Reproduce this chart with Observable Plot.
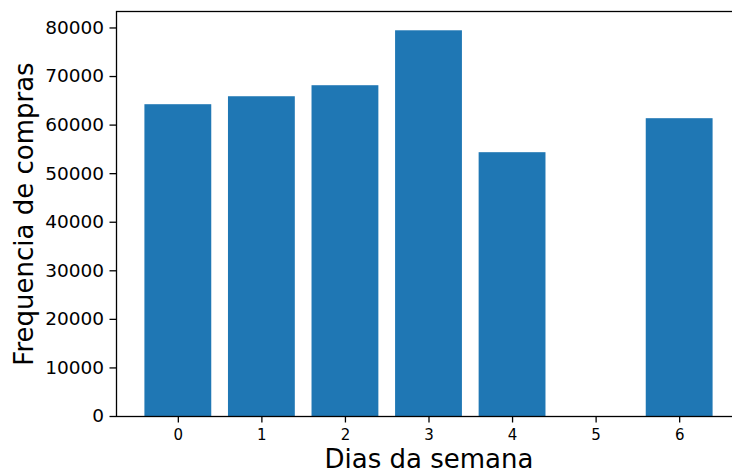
<!DOCTYPE html>
<html>
<head>
<meta charset="utf-8">
<script src="https://cdn.jsdelivr.net/npm/d3@7"></script>
<script src="https://cdn.jsdelivr.net/npm/@observablehq/plot@0.6"></script>
<style>
  html, body { margin: 0; padding: 0; background: #fff; }
  svg { font-family: "DejaVu Sans", sans-serif; }
</style>
</head>
<body>
<div id="chart"></div>
<script>
const days = [0, 1, 2, 3, 4, 5, 6];
const purchases = [64200, 65840, 68110, 79420, 54320, 0, 61320];
const yTicks = [0, 10000, 20000, 30000, 40000, 50000, 60000, 70000, 80000];
const xLabel = "Dias da semana";
const yLabel = "Frequencia de compras";

const data = days.map((d, i) => ({day: d, value: purchases[i]}));
const yMax = d3.max(purchases) * 1.05;
const xPad = 0.4 + 0.05 * (6.8);

const chart = Plot.plot({
  width: 732,
  height: 472,
  marginLeft: 116,
  marginRight: -9,
  marginTop: 11,
  marginBottom: 56,
  style: {fontFamily: "DejaVu Sans, sans-serif", background: "#fff", color: "#000"},
  x: {domain: [-xPad, 6 + xPad]},
  y: {domain: [0, yMax]},
  marks: [
    Plot.rectY(data, {x1: d => d.day - 0.4, x2: d => d.day + 0.4, y1: 0, y2: "value", fill: "#1f77b4"}),
    Plot.frame({stroke: "#000", strokeWidth: 1.3}),
    Plot.axisY(yTicks, {tickSize: 6.5, tickPadding: 6, tickFormat: d => String(d), fontSize: 18.5, label: null, stroke: "#000", strokeWidth: 1.3, color: "#000"}),
    Plot.axisX(days, {tickSize: 6.5, tickPadding: 6, tickFormat: d => String(d), fontSize: 15, label: null, stroke: "#000", strokeWidth: 1.3, color: "#000"}),
    Plot.text([yLabel], {frameAnchor: "left", textAnchor: "middle", dx: -92, rotate: -90, fontSize: 26, fill: "#000"}),
    Plot.text([xLabel], {frameAnchor: "bottom", textAnchor: "middle", dy: 51.5, fontSize: 26, fill: "#000"})
  ]
});
document.getElementById("chart").appendChild(chart);
</script>
</body>
</html>
